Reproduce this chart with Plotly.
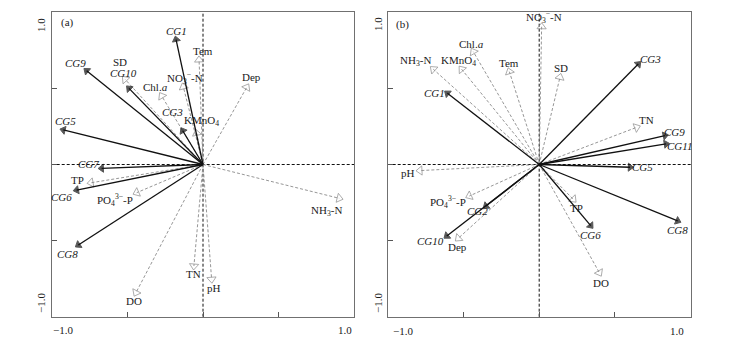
import plotly.graph_objects as go

# ---------------- data ----------------
# Panel (a): species (solid) and environmental (dashed) vectors
a_sp_names = ["CG1", "CG9", "CG10", "CG5", "CG3", "CG7", "CG6", "CG8"]
a_sp_x = [-0.178, -0.769, -0.489, -0.923, -0.134, -0.670, -0.835, -0.824]
a_sp_y = [0.821, 0.616, 0.500, 0.227, 0.222, -0.025, -0.168, -0.529]

a_env_names = ["Tem", "NO3", "Chla", "SD", "KMnO4", "Dep", "TP", "PO4", "NH3", "TN", "pH", "DO"]
a_env_x = [-0.026, -0.130, -0.273, -0.515, -0.042, 0.289, -0.740, -0.438, 0.900, -0.060, 0.057, -0.443]
a_env_y = [0.687, 0.510, 0.450, 0.560, 0.205, 0.507, -0.120, -0.185, -0.222, -0.667, -0.754, -0.842]

# Panel (b)
b_sp_names = ["CG3", "CG1", "CG9", "CG11", "CG5", "CG8", "CG6", "CG10", "CG2"]
b_sp_x = [0.654, -0.606, 0.830, 0.837, 0.600, 0.914, 0.340, -0.610, -0.351]
b_sp_y = [0.660, 0.468, 0.190, 0.135, -0.018, -0.371, -0.402, -0.470, -0.273]

b_env_names = ["NO3", "Chla", "NH3", "KMnO4", "Tem", "SD", "TN", "pH", "PO4", "Dep", "TP", "DO"]
b_env_x = [0.016, -0.435, -0.699, -0.512, -0.197, 0.137, 0.643, -0.787, -0.461, -0.534, 0.225, 0.397]
b_env_y = [0.905, 0.741, 0.626, 0.626, 0.610, 0.573, 0.244, -0.040, -0.207, -0.485, -0.229, -0.711]

axis_range = [-1.0, 1.0]
inner_ticks = [-0.5, 0.0, 0.5]
tick_text_lo = "\u22121.0"
tick_text_hi = "1.0"

# ---------------- display labels ----------------
env_label = {
    "Tem": "Tem",
    "NO3": "NO<sub>3</sub><sup>\u2212</sup>-N",
    "Chla": "Chl.<i>a</i>",
    "SD": "SD",
    "KMnO4": "KMnO<sub>4</sub>",
    "Dep": "Dep",
    "TP": "TP",
    "PO4": "PO<sub>4</sub><sup>3\u2212</sup>-P",
    "NH3": "NH<sub>3</sub>-N",
    "TN": "TN",
    "pH": "pH",
    "DO": "DO",
}

# label offsets in pixels (dx right, dy down)
a_sp_off = {"CG1": (0, -9), "CG9": (-11, -8), "CG10": (-6, -15), "CG5": (2, -9),
            "CG3": (-10, -19), "CG7": (-13, -4), "CG6": (-15, 7), "CG8": (-11, 9)}
a_env_off = {"Tem": (4, -9), "NO3": (2, -9), "Chla": (-6, -9), "SD": (-5, -17),
             "KMnO4": (5, -12), "Dep": (5, -10), "TP": (-14, -3), "PO4": (-22, 7),
             "NH3": (-13, 13), "TN": (0, 8), "pH": (2, 9), "DO": (-2, 8)}
b_sp_off = {"CG3": (12, -5), "CG1": (-13, 0), "CG9": (10, -4), "CG11": (13, 2),
            "CG5": (12, 0), "CG8": (0, 9), "CG6": (0, 9), "CG10": (-16, 5), "CG2": (-9, 5)}
b_env_off = {"NO3": (2, -10), "Chla": (-2, -8), "NH3": (-18, -8), "KMnO4": (-3, -8),
             "Tem": (0, -9), "SD": (1, -9), "TN": (10, -7), "pH": (-12, 2),
             "PO4": (-21, 6), "Dep": (-1, 9), "TP": (3, 9), "DO": (2, 10)}

W, H = 746, 339
FONT = "Liberation Serif"
TXT = "#1a1a1a"


def vec_trace(xs, ys, color, dash, width, symbol, size, xa, ya):
    X, Y, S = [], [], []
    for x, y in zip(xs, ys):
        X += [0, x, None]
        Y += [0, y, None]
        S += [0, size, 0]
    return go.Scatter(
        x=X, y=Y, mode="lines+markers", xaxis=xa, yaxis=ya,
        line=dict(color=color, width=width, dash=dash),
        marker=dict(symbol=symbol, size=S, angleref="previous", color=color,
                    line=dict(width=1, color=color)),
        hoverinfo="skip", showlegend=False, cliponaxis=False,
    )


fig = go.Figure()
fig.add_trace(vec_trace(a_env_x, a_env_y, "#8a8a8a", "3px,2px", 0.9, "triangle-up-open", 8, "x", "y"))
fig.add_trace(vec_trace(a_sp_x, a_sp_y, "#111111", "solid", 1.3, "triangle-up", 7, "x", "y"))
fig.add_trace(vec_trace(b_env_x, b_env_y, "#8a8a8a", "3px,2px", 0.9, "triangle-up-open", 8, "x2", "y2"))
fig.add_trace(vec_trace(b_sp_x, b_sp_y, "#111111", "solid", 1.3, "triangle-up", 7, "x2", "y2"))

ann = []


def add_labels(names, xs, ys, offs, xref, yref, italic):
    for n, x, y in zip(names, xs, ys):
        dx, dy = offs[n]
        txt = f"<i>{n}</i>" if italic else env_label[n]
        ann.append(dict(x=x, y=y, xref=xref, yref=yref, text=txt, showarrow=False,
                        xshift=dx, yshift=-dy, xanchor="center", yanchor="middle",
                        font=dict(family=FONT, size=11, color=TXT)))


add_labels(a_env_names, a_env_x, a_env_y, a_env_off, "x", "y", False)
add_labels(a_sp_names, a_sp_x, a_sp_y, a_sp_off, "x", "y", True)
add_labels(b_env_names, b_env_x, b_env_y, b_env_off, "x2", "y2", False)
add_labels(b_sp_names, b_sp_x, b_sp_y, b_sp_off, "x2", "y2", True)


def pan(px, py, text, angle=0, size=11):
    ann.append(dict(x=px / W, y=1 - py / H, xref="paper", yref="paper", text=text,
                    showarrow=False, textangle=angle, xanchor="center", yanchor="middle",
                    font=dict(family=FONT, size=size, color=TXT)))


# panel letters
pan(67, 23, "(a)")
pan(402, 24, "(b)")
# tick labels
pan(63, 330, tick_text_lo)
pan(345, 330, tick_text_hi)
pan(403, 331, tick_text_lo)
pan(677, 331, tick_text_hi)
pan(41, 25, tick_text_hi, -90)
pan(41, 303, tick_text_lo, -90)
pan(378, 24, tick_text_hi, -90)
pan(378, 303, tick_text_lo, -90)

shapes = []
for xr, yr in [("x", "y"), ("x2", "y2")]:
    shapes.append(dict(type="line", xref=xr, yref=yr + " domain", x0=0, x1=0, y0=0, y1=1,
                       line=dict(color="#111", width=1, dash="3px,2px"), layer="below"))
    shapes.append(dict(type="line", xref=xr + " domain", yref=yr, x0=0, x1=1, y0=0, y1=0,
                       line=dict(color="#111", width=1, dash="3px,2px"), layer="below"))

ax_common = dict(range=axis_range, showline=True, mirror=True, linecolor="#707070", linewidth=1.2,
                 ticks="inside", tickvals=inner_ticks, ticklen=5, tickcolor="#555",
                 showticklabels=False, showgrid=False, zeroline=False, fixedrange=True)

ydom = [1 - 316.7 / H, 1 - 12.3 / H]
fig.update_layout(
    width=W, height=H, margin=dict(l=0, r=0, t=0, b=0),
    paper_bgcolor="white", plot_bgcolor="white",
    xaxis=dict(domain=[51.7 / W, 354.3 / W], anchor="y", **ax_common),
    yaxis=dict(domain=ydom, anchor="x", **ax_common),
    xaxis2=dict(domain=[387.7 / W, 690.7 / W], anchor="y2", **ax_common),
    yaxis2=dict(domain=ydom, anchor="x2", **ax_common),
    annotations=ann, shapes=shapes,
)

fig.write_html("out.html")
